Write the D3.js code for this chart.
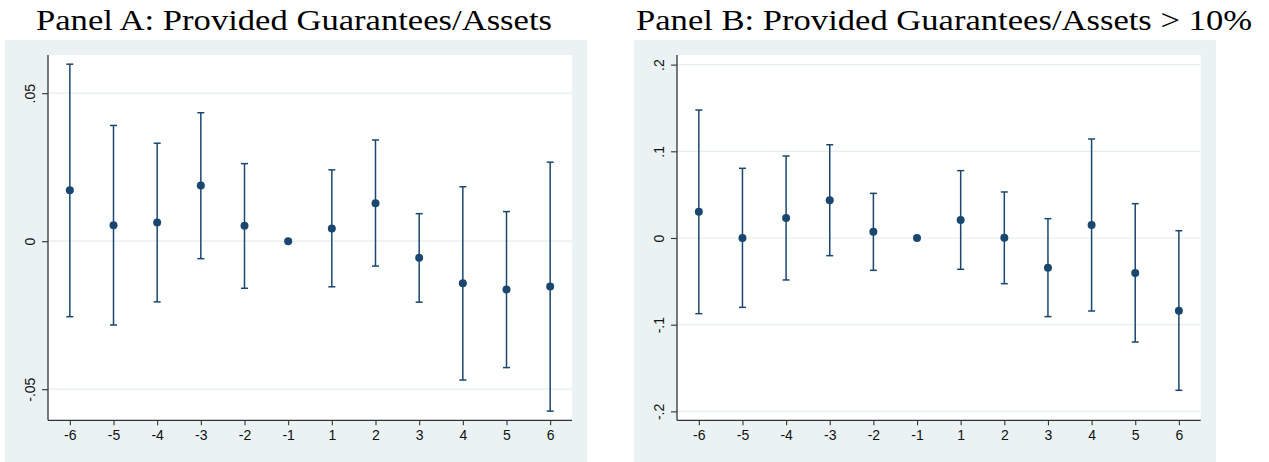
<!DOCTYPE html>
<html>
<head>
<meta charset="utf-8">
<script src="https://cdn.jsdelivr.net/npm/d3@7"></script>
<style>
  html, body { margin: 0; padding: 0; background: #ffffff; }
  svg { display: block; }
</style>
</head>
<body>
<svg id="chart" width="1269" height="462"></svg>
<script>
// ---- Data ----
const periods = ["-6", "-5", "-4", "-3", "-2", "-1", "1", "2", "3", "4", "5", "6"];

const coefA  = [0.0172, 0.0054, 0.0063, 0.0188, 0.0052, 0, 0.0043, 0.0128, -0.0056, -0.0142, -0.0163, -0.0153];
const upperA = [0.0598, 0.0391, 0.0331, 0.0434, 0.0262, null, 0.0241, 0.0342, 0.0093, 0.0184, 0.0100, 0.0267];
const lowerA = [-0.0255, -0.0283, -0.0205, -0.0059, -0.0159, null, -0.0154, -0.0084, -0.0206, -0.0469, -0.0427, -0.0574];

const coefB  = [0.0303, 0.0000, 0.0231, 0.0435, 0.0073, 0, 0.0208, 0.0004, -0.0342, 0.0150, -0.0404, -0.0838];
const upperB = [0.1476, 0.0804, 0.0946, 0.1076, 0.0515, null, 0.0777, 0.0531, 0.0223, 0.1142, 0.0396, 0.0084];
const lowerB = [-0.0873, -0.0800, -0.0484, -0.0204, -0.0373, null, -0.0361, -0.0527, -0.0907, -0.0842, -0.1200, -0.1757];

const ticksA = [-0.05, 0, 0.05];
const tickLabelsA = ["-.05", "0", ".05"];
const ticksB = [-0.2, -0.1, 0, 0.1, 0.2];
const tickLabelsB = ["-.2", "-.1", "0", ".1", ".2"];

const titleA = "Panel A: Provided Guarantees/Assets";
const titleB = "Panel B: Provided Guarantees/Assets > 10%";

// ---- Styling ----
const NAVY = "#1a476f";
const BG = "#eaf2f3";
const GRID = "#e6eef0";
const AXIS = "#333333";

const svg = d3.select("#chart");

function drawPanel(cfg) {
  const g = svg.append("g");
  // outer background
  g.append("rect")
    .attr("x", cfg.bgX0).attr("y", 40)
    .attr("width", cfg.bgX1 - cfg.bgX0).attr("height", 422)
    .attr("fill", BG);
  // plot region
  g.append("rect")
    .attr("x", cfg.left).attr("y", cfg.top)
    .attr("width", cfg.right - cfg.left).attr("height", cfg.bottom - cfg.top)
    .attr("fill", "#ffffff");

  const x = d3.scaleLinear().domain([0.5, periods.length + 0.5]).range([cfg.left, cfg.right]);
  const y = d3.scaleLinear().domain(cfg.yDomain).range([cfg.bottom, cfg.top]);

  // grid
  g.append("g").selectAll("line").data(cfg.ticks).join("line")
    .attr("x1", cfg.left).attr("x2", cfg.right)
    .attr("y1", d => y(d)).attr("y2", d => y(d))
    .attr("stroke", GRID).attr("stroke-width", 1.2);

  // error bars
  const idx = d3.range(periods.length).filter(i => cfg.upper[i] !== null);
  const eb = g.append("g");
  eb.selectAll("line.v").data(idx).join("line").attr("class", "v")
    .attr("x1", i => x(i + 1)).attr("x2", i => x(i + 1))
    .attr("y1", i => y(cfg.lower[i])).attr("y2", i => y(cfg.upper[i]))
    .attr("stroke", NAVY).attr("stroke-width", 1.5);
  eb.selectAll("line.cu").data(idx).join("line").attr("class", "cu")
    .attr("x1", i => x(i + 1) - 3.5).attr("x2", i => x(i + 1) + 3.5)
    .attr("y1", i => y(cfg.upper[i])).attr("y2", i => y(cfg.upper[i]))
    .attr("stroke", NAVY).attr("stroke-width", 1.5);
  eb.selectAll("line.cl").data(idx).join("line").attr("class", "cl")
    .attr("x1", i => x(i + 1) - 3.5).attr("x2", i => x(i + 1) + 3.5)
    .attr("y1", i => y(cfg.lower[i])).attr("y2", i => y(cfg.lower[i]))
    .attr("stroke", NAVY).attr("stroke-width", 1.5);

  // points
  g.append("g").selectAll("circle").data(cfg.coef).join("circle")
    .attr("cx", (d, i) => x(i + 1)).attr("cy", d => y(d))
    .attr("r", 4).attr("fill", NAVY);

  // y axis
  const yAxis = d3.axisLeft(y).tickValues(cfg.ticks)
    .tickFormat((d, i) => cfg.tickLabels[i]).tickSize(6);
  const ya = g.append("g").attr("transform", `translate(${cfg.left},0)`).call(yAxis);
  ya.select(".domain").attr("stroke", AXIS).attr("stroke-width", 1.3)
    .attr("d", `M0,${cfg.top}V${cfg.bottom}`);
  ya.selectAll(".tick line").attr("stroke", AXIS).attr("stroke-width", 1.1);
  ya.selectAll(".tick text")
    .attr("x", 0).attr("y", 0).attr("dy", "0.36em")
    .attr("text-anchor", "middle")
    .attr("transform", "translate(-18.5,0) rotate(-90)")
    .attr("fill", "#111")
    .style("font-family", "'Liberation Sans', Arial, Helvetica, sans-serif")
    .style("font-size", "14px");

  // x axis
  const xAxis = d3.axisBottom(x).tickValues(d3.range(1, periods.length + 1))
    .tickFormat(d => periods[d - 1]).tickSize(5);
  const xa = g.append("g").attr("transform", `translate(0,${cfg.bottom})`).call(xAxis);
  xa.select(".domain").attr("stroke", AXIS).attr("stroke-width", 1.3)
    .attr("d", `M${cfg.left},0H${cfg.right}`);
  xa.selectAll(".tick line").attr("stroke", AXIS).attr("stroke-width", 1.1);
  xa.selectAll(".tick text")
    .attr("y", 10).attr("dy", "0.71em")
    .attr("fill", "#111")
    .style("font-family", "'Liberation Sans', Arial, Helvetica, sans-serif")
    .style("font-size", "14px");

  // title
  svg.append("text")
    .attr("x", cfg.titleX).attr("y", 30)
    .attr("textLength", cfg.titleW).attr("lengthAdjust", "spacingAndGlyphs")
    .style("font-family", "'Liberation Serif', 'DejaVu Serif', serif")
    .style("font-size", "29px")
    .attr("fill", "#000")
    .text(cfg.title);
}

drawPanel({
  bgX0: 5, bgX1: 587, left: 48, right: 572, top: 55, bottom: 420.3,
  yDomain: [-0.0605, 0.0629], ticks: ticksA, tickLabels: tickLabelsA,
  coef: coefA, upper: upperA, lower: lowerA,
  title: titleA, titleX: 36, titleW: 516
});

drawPanel({
  bgX0: 634, bgX1: 1216, left: 677, right: 1200.7, top: 55, bottom: 420.3,
  yDomain: [-0.2103, 0.2111], ticks: ticksB, tickLabels: tickLabelsB,
  coef: coefB, upper: upperB, lower: lowerB,
  title: titleB, titleX: 636, titleW: 616
});
</script>
</body>
</html>
